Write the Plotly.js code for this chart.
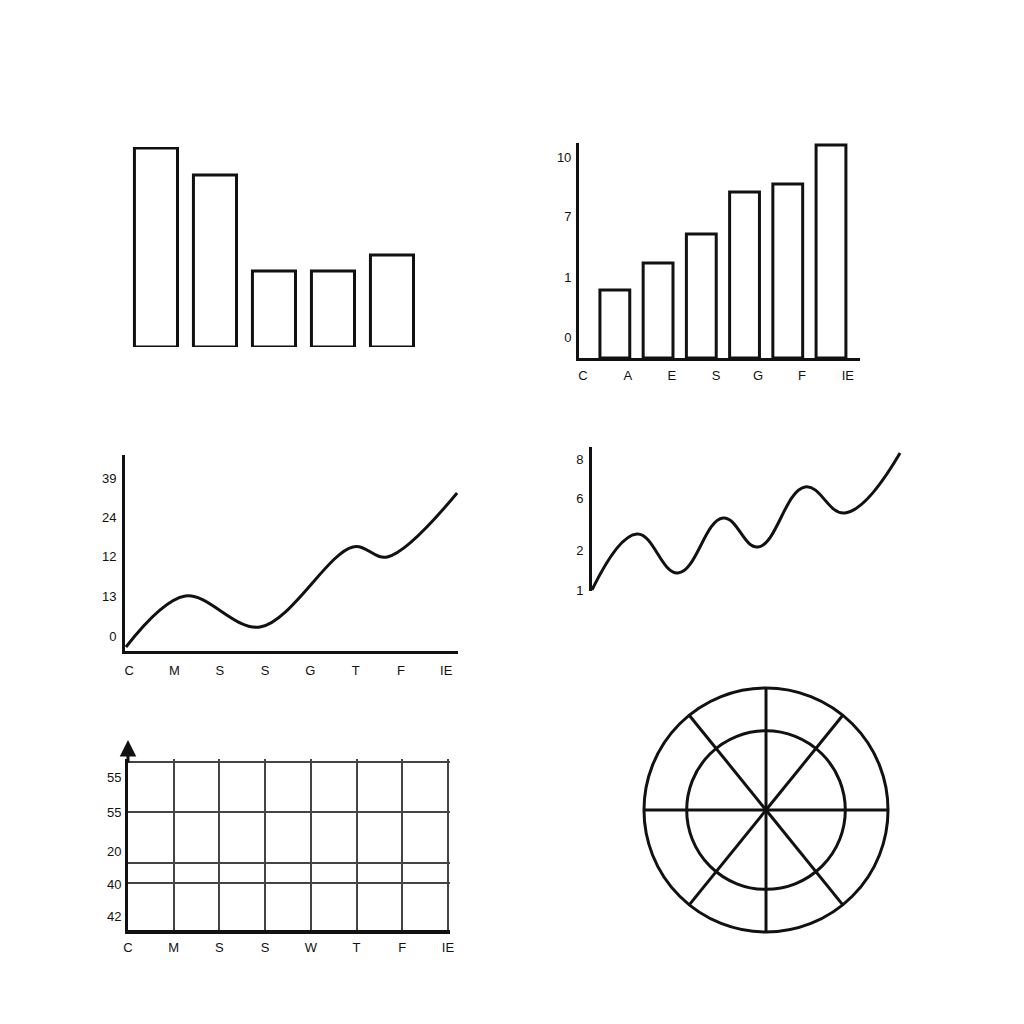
<!DOCTYPE html>
<html>
<head>
<meta charset="utf-8">
<script src="https://cdn.plot.ly/plotly-3.0.1.min.js"></script>
<style>
  html, body { margin: 0; padding: 0; background: #fff; }
  #chart { width: 1024px; height: 1024px; }
</style>
</head>
<body>
<div id="chart"></div>
<script>
// panel 1: plain outlined bars, no axes
const barsA = [9.95, 8.6, 3.8, 3.8, 4.6];

// panel 2: rising bars with odd tick labels
const barsBPos = [1, 2, 3, 4, 5, 6];
const barsB = [3.4, 4.75, 6.2, 8.3, 8.7, 10.65];
const barsBLabelPos = [0.26, 1.3, 2.32, 3.34, 4.31, 5.33, 6.39];
const barsBLabels = ['C', 'A', 'E', 'S', 'G', 'F', 'IE'];
const barsBTickPos = [10.05, 7.1, 4.05, 1.05];
const barsBTicks = ['10', '7', '1', '0'];

// panel 3: smooth line
const lineAx = [-0.07, 1.24, 2.89, 4.94, 5.7, 7.24];
const lineAy = [4, 55, 24, 104, 94, 158];
const lineALabels = ['C', 'M', 'S', 'S', 'G', 'T', 'F', 'IE'];
const lineATickPos = [173, 134, 95, 55, 15];
const lineATicks = ['39', '24', '12', '13', '0'];

// panel 4: wavy line
const lineBx = [0, 4.5, 8.6, 13.1, 16.6, 21.3, 25.3, 30.8];
const lineBy = [0.1, 5.7, 1.8, 7.3, 4.4, 10.4, 7.8, 13.8];
const lineBTickPos = [13.2, 9.3, 4.1, 0.1];
const lineBTicks = ['8', '6', '2', '1'];

// panel 5: empty grid
const gridLabels = ['C', 'M', 'S', 'S', 'W', 'T', 'F', 'IE'];
const gridTickPos = [153, 118, 79, 46, 14];
const gridTicks = ['55', '55', '20', '40', '42'];
const gridRows = [168, 118, 67, 47];

// panel 6: polar wheel
const spokeAngles = [0, 51, 90, 129, 180, 231, 270, 309];
const ringRadii = [0.65];

const ink = '#111';
const font = { family: 'Liberation Sans, Arial, sans-serif', size: 13, color: ink };

const data = [
  {
    type: 'bar', x: [0, 1, 2, 3, 4], y: barsA, xaxis: 'x', yaxis: 'y',
    marker: { color: 'white', line: { color: ink, width: 3 } }, cliponaxis: false,
    hoverinfo: 'none'
  },
  {
    type: 'bar', x: barsBPos, y: barsB, width: 0.69, xaxis: 'x2', yaxis: 'y2',
    marker: { color: 'white', line: { color: ink, width: 3 } }, cliponaxis: false,
    hoverinfo: 'none'
  },
  {
    type: 'scatter', mode: 'lines', x: lineAx, y: lineAy, xaxis: 'x3', yaxis: 'y3',
    line: { color: ink, width: 3, shape: 'spline', smoothing: 1 }
  },
  {
    type: 'scatter', mode: 'lines', x: lineBx, y: lineBy, xaxis: 'x4', yaxis: 'y4',
    line: { color: ink, width: 3, shape: 'spline', smoothing: 1.2 }
  },
  { type: 'scatter', mode: 'lines', x: [], y: [], xaxis: 'x5', yaxis: 'y5' },
  { type: 'scatter', mode: 'lines', x: [], y: [], xaxis: 'x5', yaxis: 'y6' },
  { type: 'scatterpolar', mode: 'lines', r: [], theta: [], subplot: 'polar' }
];

const hidden = { visible: true, showline: false, showgrid: false, zeroline: false, showticklabels: false, ticks: '' };
const clear = 'rgba(0,0,0,0)';
function yTicks(len) {
  return { ticks: 'outside', ticklen: len, tickcolor: clear, tickmode: 'array', zeroline: false, showgrid: false };
}
function xTicks(len) {
  return { ticks: 'outside', ticklen: len, tickcolor: clear, tickmode: 'array', zeroline: false };
}

const layout = {
  width: 1024, height: 1024,
  margin: { l: 0, r: 0, t: 0, b: 0 },
  paper_bgcolor: 'white', plot_bgcolor: clear,
  showlegend: false, font: font, bargap: 0.27,

  xaxis: Object.assign({}, hidden, { domain: [0.1235, 0.4116], range: [-0.5, 4.5], anchor: 'y' }),
  yaxis: Object.assign({}, hidden, { domain: [0.6611, 0.8564], range: [0, 10], anchor: 'x' }),

  xaxis2: Object.assign(xTicks(3), {
    domain: [0.5654, 0.8398], range: [0.17, 6.67], anchor: 'y2',
    tickvals: barsBLabelPos, ticktext: barsBLabels,
    showline: true, linecolor: ink, linewidth: 3, showgrid: false
  }),
  yaxis2: Object.assign(yTicks(2), {
    domain: [0.6504, 0.8604], range: [0, 10.75], anchor: 'x2',
    tickvals: barsBTickPos, ticktext: barsBTicks,
    showline: true, linecolor: ink, linewidth: 3
  }),

  xaxis3: Object.assign(xTicks(5), {
    domain: [0.1221, 0.4473], range: [-0.09, 7.26], anchor: 'y3',
    tickvals: [0, 1, 2, 3, 4, 5, 6, 7], ticktext: lineALabels,
    showline: true, linecolor: ink, linewidth: 3, showgrid: false
  }),
  yaxis3: Object.assign(yTicks(3), {
    domain: [0.3643, 0.5557], range: [0, 196], anchor: 'x3',
    tickvals: lineATickPos, ticktext: lineATicks,
    showline: true, linecolor: ink, linewidth: 3
  }),

  xaxis4: Object.assign({}, hidden, { domain: [0.5781, 0.8809], range: [0, 31], anchor: 'y4' }),
  yaxis4: Object.assign(yTicks(3), {
    domain: [0.4229, 0.5635], range: [0, 14.4], anchor: 'x4',
    tickvals: lineBTickPos, ticktext: lineBTicks,
    showline: true, linecolor: ink, linewidth: 3
  }),

  xaxis5: Object.assign(xTicks(2), {
    domain: [0.125, 0.4393], range: [0, 7.04], anchor: 'y5',
    tickvals: [0, 1, 2, 3, 4, 5, 6, 7], ticktext: gridLabels,
    showline: true, linecolor: ink, linewidth: 4,
    showgrid: true, gridcolor: '#444', gridwidth: 2
  }),
  yaxis5: Object.assign(yTicks(1), {
    domain: [0.0918, 0.2588], range: [0, 171], anchor: 'x5',
    tickvals: gridTickPos, ticktext: gridTicks,
    showline: true, linecolor: ink, linewidth: 3
  }),
  yaxis6: {
    overlaying: 'y5', anchor: 'x5', range: [0, 171], tickmode: 'array', tickvals: gridRows,
    showticklabels: false, ticks: '', showline: false, zeroline: false,
    showgrid: true, gridcolor: '#444', gridwidth: 2
  },

  polar: {
    domain: { x: [0.6289, 0.8672], y: [0.0898, 0.3281] },
    bgcolor: 'white',
    radialaxis: {
      range: [0, 1], tickmode: 'array', tickvals: ringRadii, showticklabels: false, ticks: '',
      showline: false, gridcolor: ink, gridwidth: 3
    },
    angularaxis: {
      tickmode: 'array', tickvals: spokeAngles, showticklabels: false, ticks: '',
      showline: true, linecolor: ink, linewidth: 3, gridcolor: ink, gridwidth: 3,
      direction: 'counterclockwise', rotation: 0
    }
  },

  annotations: [{
    xref: 'paper', yref: 'paper', x: 128 / 1024, y: 1 - 740 / 1024,
    ax: 0, ay: 24, text: '', showarrow: true,
    arrowhead: 2, arrowsize: 1.1, arrowwidth: 3, arrowcolor: ink
  }]
};

Plotly.newPlot('chart', data, layout, { staticPlot: true });
</script>
</body>
</html>
